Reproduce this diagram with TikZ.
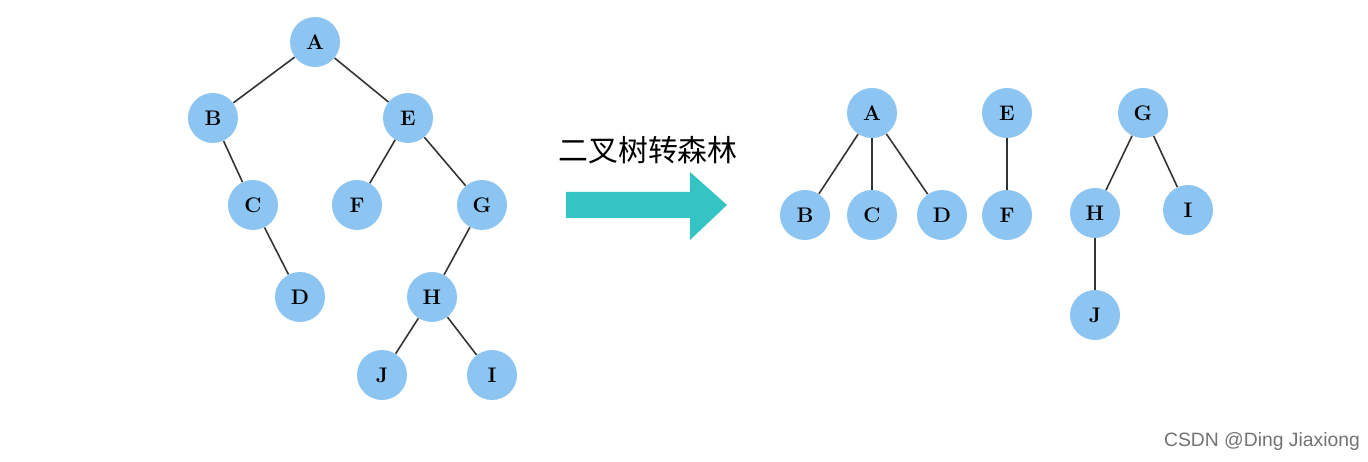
\documentclass[tikz,border=0pt]{standalone}
\usepackage{fontspec}
\newfontfamily\cjk{Noto Sans CJK SC}
\newfontfamily\wm{Liberation Sans}
\definecolor{nodeblue}{RGB}{140,196,242}
\definecolor{arrowteal}{RGB}{52,196,196}
\begin{document}
\begin{tikzpicture}[x=0.02cm,y=-0.02cm,
  tn/.style={circle,fill=nodeblue,minimum size=1.0cm,inner sep=0pt,font=\bfseries\large},
  edge/.style={draw=black!80,line width=0.9pt}]
\useasboundingbox[fill=white] (0,0) rectangle (1368,462);
% left tree
\node[tn] (A) at (315,42) {A};
\node[tn] (B) at (213,118) {B};
\node[tn] (E) at (408,118) {E};
\node[tn] (C) at (253,205) {C};
\node[tn] (F) at (357,205) {F};
\node[tn] (G) at (482,205) {G};
\node[tn] (D) at (300,297) {D};
\node[tn] (H) at (432,297) {H};
\node[tn] (J) at (382,375) {J};
\node[tn] (I) at (492,375) {I};
\foreach \a/\b in {A/B,A/E,B/C,C/D,E/F,E/G,G/H,H/J,H/I}
  \draw[edge] (\a) -- (\b);
% right forest
\node[tn] (rA) at (872,113) {A};
\node[tn] (rB) at (805,215) {B};
\node[tn] (rC) at (872,215) {C};
\node[tn] (rD) at (942,215) {D};
\node[tn] (rE) at (1007,113) {E};
\node[tn] (rF) at (1007,215) {F};
\node[tn] (rG) at (1143,113) {G};
\node[tn] (rH) at (1095,213) {H};
\node[tn] (rI) at (1188,210) {I};
\node[tn] (rJ) at (1095,315) {J};
\foreach \a/\b in {rA/rB,rA/rC,rA/rD,rE/rF,rG/rH,rG/rI,rH/rJ}
  \draw[edge] (\a) -- (\b);
% arrow
\fill[arrowteal] (566,192) -- (690,192) -- (690,172) -- (727,205) -- (690,240) -- (690,218) -- (566,218) -- cycle;
\node[font=\cjk\fontsize{17}{17}\selectfont] (lbl) at (648,150) {二叉树转森林};
\node[font=\wm\fontsize{11}{11}\selectfont,text=black!55] (wm) at (1262,442) {CSDN @Ding Jiaxiong};
\end{tikzpicture}
\end{document}
